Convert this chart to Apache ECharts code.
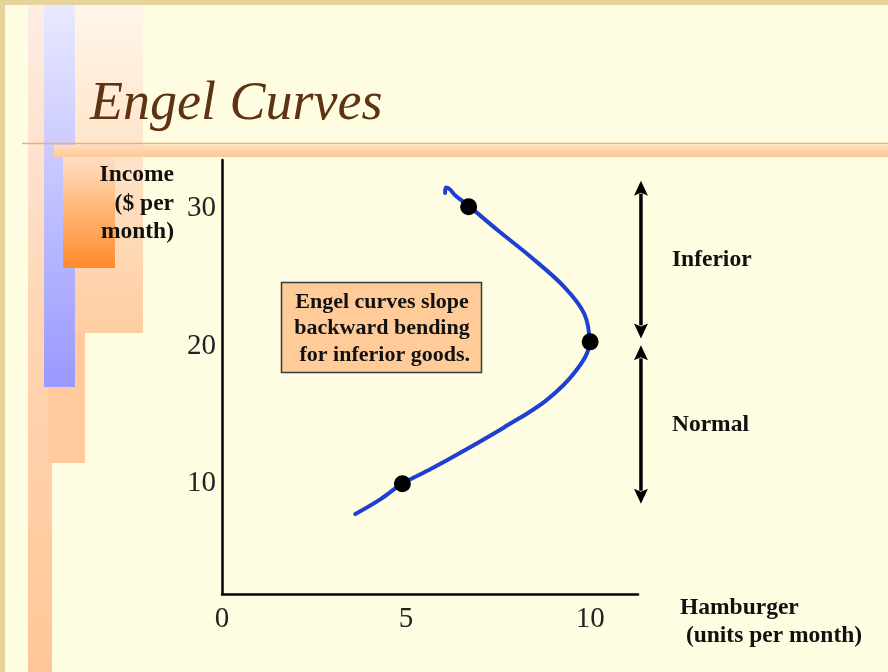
<!DOCTYPE html>
<html>
<head>
<meta charset="utf-8">
<script src="https://cdn.jsdelivr.net/npm/echarts@6/dist/echarts.min.js"></script>
<style>
  html, body { margin: 0; padding: 0; background: #FFFDE1; }
  #chart { width: 888px; height: 672px; }
</style>
</head>
<body>
<div id="chart"></div>
<script>
// Engel curve for hamburgers: quantity bought (units/month) against income ($/month)
const curveQty    = [3.62, 4.31, 4.88, 5.67, 6.57, 7.66, 8.80, 9.62, 9.98, 9.84, 9.30, 8.39, 7.49, 6.71, 6.33, 6.18, 6.08, 6.06];
const curveIncome = [7.80, 8.89, 9.98, 11.07, 12.40, 14.09, 16.04, 18.22, 20.28, 22.34, 24.28, 26.46, 28.40, 30.15, 30.95, 31.40, 31.50, 31.10];

// highlighted consumption points on the curve
const pointQty    = [4.9, 10, 6.7];
const pointIncome = [10, 20.3, 30.1];

// tick labels
const xTickValues = [0, 5, 10];
const yTickValues = [10, 20, 30];

// income ranges marked with double arrows beside the plot
const rangeLabels = ['Inferior', 'Normal'];
const rangeQty    = [11.38, 11.38];
const rangeLow    = [20.55, 8.55];
const rangeHigh   = [32.0, 20.05];

const noteLines = ['Engel curves slope', 'backward bending', ' for inferior goods.'];

const SERIF = '"Liberation Serif", "Times New Roman", serif';

const curveData = curveQty.map((q, i) => [q, curveIncome[i]]);
const pointData = pointQty.map((q, i) => [q, pointIncome[i]]);
const rangeData = rangeQty.map((q, i) => [q, rangeLow[i], rangeHigh[i]]);

function grad(c0, c1, stops) {
  return new echarts.graphic.LinearGradient(0, 0, 0, 1, stops || [
    { offset: 0, color: c0 }, { offset: 1, color: c1 }
  ]);
}

// slide decoration: frame, coloured bars and title rule
const decor = [
  { type: 'rect', shape: { x: 0, y: 0, width: 888, height: 5 }, style: { fill: '#E6D49C' } },
  { type: 'rect', shape: { x: 0, y: 0, width: 5, height: 672 }, style: { fill: '#E6D49C' } },
  { type: 'rect', shape: { x: 36, y: 5, width: 107, height: 328 },
    style: { fill: grad(null, null, [{ offset: 0, color: '#FFF6EA' }, { offset: 0.45, color: '#FFE4CA' }, { offset: 1, color: '#FFCDA2' }]) } },
  { type: 'rect', shape: { x: 28, y: 5, width: 24, height: 667 },
    style: { fill: grad(null, null, [{ offset: 0, color: '#FDEDE4' }, { offset: 0.45, color: '#FFD6B6' }, { offset: 1, color: '#FFC797' }]) } },
  { type: 'rect', shape: { x: 48, y: 333, width: 37, height: 130 }, style: { fill: '#FFCB9E' } },
  { type: 'rect', shape: { x: 44, y: 5, width: 31, height: 382 }, style: { fill: grad('#E9E9FF', '#9999FF') } },
  { type: 'rect', shape: { x: 63, y: 150, width: 52, height: 118 },
    style: { fill: grad(null, null, [{ offset: 0, color: '#FFE4CE' }, { offset: 0.5, color: '#FFB777' }, { offset: 1, color: '#FF8A2C' }]) } },
  { type: 'line', shape: { x1: 22, y1: 143.5, x2: 888, y2: 143.5 }, style: { stroke: '#F0AE6E', lineWidth: 1.5 } },
  { type: 'rect', shape: { x: 54, y: 145, width: 834, height: 12 },
    style: { fill: grad(null, null, [{ offset: 0, color: '#FFDCBD' }, { offset: 1, color: '#FFC894' }]) } },
  { type: 'text', x: 90, y: 105,
    style: { text: 'Engel Curves', font: 'italic 54px ' + SERIF, fill: '#5E3311', verticalAlign: 'middle' } }
];

// axis titles and note box
const labelFont = 'bold 23.5px ' + SERIF;
const texts = [
  { type: 'text', x: 174, y: 175, style: { text: 'Income', font: labelFont, fill: '#111', align: 'right', verticalAlign: 'middle' } },
  { type: 'text', x: 174, y: 204, style: { text: '($ per', font: labelFont, fill: '#111', align: 'right', verticalAlign: 'middle' } },
  { type: 'text', x: 174, y: 232, style: { text: 'month)', font: labelFont, fill: '#111', align: 'right', verticalAlign: 'middle' } },
  { type: 'text', x: 680, y: 608, style: { text: 'Hamburger', font: labelFont, fill: '#111', verticalAlign: 'middle' } },
  { type: 'text', x: 680, y: 636, style: { text: ' (units per month)', font: labelFont, fill: '#111', verticalAlign: 'middle' } },
  { type: 'rect', shape: { x: 281.5, y: 282.5, width: 200, height: 90 },
    style: { fill: '#FFCC99', stroke: '#3a3a3a', lineWidth: 1.5 } }
].concat(noteLines.map((t, i) => ({
  type: 'text', x: 382, y: 302 + i * 26.5,
  style: { text: t, font: 'bold 22px ' + SERIF, fill: '#111', align: 'center', verticalAlign: 'middle' }
})));

const chart = echarts.init(document.getElementById('chart'), null, { renderer: 'canvas' });

chart.setOption({
  backgroundColor: '#FFFDE1',
  animation: false,
  grid: { left: 222, right: 250, top: 160, bottom: 78, containLabel: false },
  xAxis: {
    type: 'value', min: 0, max: 11.3,
    axisLine: { show: true, lineStyle: { color: '#000', width: 2.5 } },
    axisTick: { show: false },
    splitLine: { show: false },
    axisLabel: {
      customValues: xTickValues, margin: 11,
      fontFamily: SERIF, fontSize: 29, color: '#222'
    }
  },
  yAxis: {
    type: 'value', min: 2, max: 33.5,
    axisLine: { show: true, lineStyle: { color: '#000', width: 2.5 } },
    axisTick: { show: false },
    splitLine: { show: false },
    axisLabel: {
      customValues: yTickValues, margin: 6,
      fontFamily: SERIF, fontSize: 29, color: '#222'
    }
  },
  graphic: { elements: decor.concat(texts) },
  series: [
    {
      name: 'Engel curve',
      type: 'line',
      data: curveData,
      smooth: 0.35,
      showSymbol: false,
      clip: false,
      lineStyle: { color: '#1E3ED4', width: 4, cap: 'round' }
    },
    {
      name: 'Points',
      type: 'scatter',
      data: pointData,
      symbol: 'circle',
      symbolSize: 17,
      clip: false,
      itemStyle: { color: '#000', opacity: 1 },
      z: 3
    },
    {
      name: 'Ranges',
      type: 'custom',
      data: rangeData,
      clip: false,
      renderItem: function (params, api) {
        const x = api.value(0);
        const top = api.coord([x, api.value(2)]);
        const bot = api.coord([x, api.value(1)]);
        const hw = 7, hl = 15;
        return {
          type: 'group',
          children: [
            { type: 'line', shape: { x1: top[0], y1: top[1] + hl - 2, x2: bot[0], y2: bot[1] - hl + 2 },
              style: { stroke: '#000', lineWidth: 3.5 } },
            { type: 'polygon', shape: { points: [[top[0], top[1]], [top[0] - hw, top[1] + hl], [top[0], top[1] + hl - 3], [top[0] + hw, top[1] + hl]] },
              style: { fill: '#000' } },
            { type: 'polygon', shape: { points: [[bot[0], bot[1]], [bot[0] - hw, bot[1] - hl], [bot[0], bot[1] - hl + 3], [bot[0] + hw, bot[1] - hl]] },
              style: { fill: '#000' } },
            { type: 'text', x: top[0] + 31, y: (top[1] + bot[1]) / 2,
              style: { text: rangeLabels[params.dataIndex], font: labelFont, fill: '#111', verticalAlign: 'middle' } }
          ]
        };
      }
    }
  ]
});
</script>
</body>
</html>
